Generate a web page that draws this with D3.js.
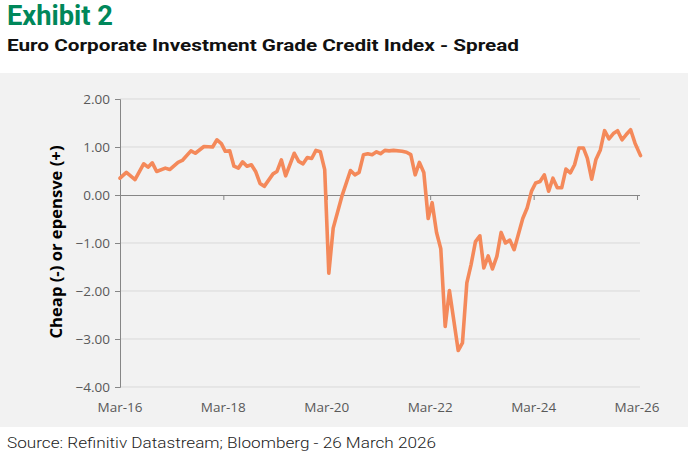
<!DOCTYPE html>
<html>
<head>
<meta charset="utf-8">
<script src="https://cdn.jsdelivr.net/npm/d3@7"></script>
<style>
  body { margin: 0; background: #fff; }
  svg { display: block; }
</style>
</head>
<body>
<svg id="chart"></svg>
<script>
// months since Mar-2016 (mid-month) and spread value
const months = [0, 1, 3, 5, 6, 7, 8, 10, 11, 13, 14, 16, 17, 19, 21, 22, 23, 24, 25, 26, 27, 28, 29, 30, 31, 32, 33, 35, 36, 37, 38, 40, 41, 42, 43, 44, 45, 46, 47, 48, 49, 51, 53, 54, 55, 56, 57, 58, 59, 60, 61, 62, 63, 65, 66, 67, 68, 69, 70, 71, 72, 73, 74, 75, 76, 78, 79, 80, 81, 82, 83, 84, 85, 86, 87, 88, 89, 90, 91, 93, 94, 95, 96, 97, 98, 99, 100, 101, 102, 103, 104, 105, 106, 107, 108, 109, 110, 111, 112, 113, 114, 115, 116, 117, 118, 119, 120];
const spread = [0.35, 0.47, 0.32, 0.65, 0.58, 0.67, 0.49, 0.56, 0.53, 0.68, 0.72, 0.92, 0.87, 1.01, 1.00, 1.15, 1.07, 0.91, 0.92, 0.60, 0.56, 0.69, 0.60, 0.63, 0.49, 0.24, 0.18, 0.44, 0.49, 0.73, 0.40, 0.87, 0.70, 0.65, 0.78, 0.76, 0.93, 0.90, 0.53, -1.63, -0.69, -0.03, 0.51, 0.42, 0.47, 0.84, 0.86, 0.84, 0.90, 0.86, 0.93, 0.92, 0.93, 0.91, 0.89, 0.84, 0.42, 0.68, 0.47, -0.49, -0.16, -0.78, -1.12, -2.74, -1.99, -3.24, -3.08, -1.83, -1.45, -0.97, -0.85, -1.52, -1.27, -1.54, -1.28, -0.78, -1.00, -0.94, -1.14, -0.49, -0.27, 0.08, 0.25, 0.28, 0.42, 0.08, 0.35, 0.15, 0.15, 0.54, 0.46, 0.63, 0.98, 0.98, 0.77, 0.33, 0.74, 0.94, 1.34, 1.17, 1.28, 1.34, 1.15, 1.26, 1.36, 1.08, 0.82];
const yTicks = [2, 1, 0, -1, -2, -3, -4];
const xTickYears = [2016, 2018, 2020, 2022, 2024, 2026];

const W = 688, H = 456;
const margin = { top: 99, right: 48, bottom: 69, left: 120 },
    width = W - margin.left - margin.right,
    height = H - margin.top - margin.bottom;

const data = months.map((m, i) => ({
    date: new Date(2016, 2 + m, m === 0 ? 1 : (m === 120 ? 26 : 15)),
    value: spread[i]
}));

const svg = d3.select("#chart")
    .attr("width", W)
    .attr("height", H);

// grey panel
svg.append("rect")
    .attr("x", 0).attr("y", 73)
    .attr("width", W).attr("height", 354)
    .attr("fill", "#f2f2f2");

svg.append("text")
    .attr("x", 7).attr("y", 25)
    .attr("font-family", "Roboto, sans-serif")
    .attr("font-weight", "bold")
    .attr("font-size", 27)
    .attr("fill", "#00875a")
    .attr("textLength", 106)
    .attr("lengthAdjust", "spacingAndGlyphs")
    .text("Exhibit 2");

svg.append("text")
    .attr("x", 7).attr("y", 50.5)
    .attr("font-family", "Roboto, sans-serif")
    .attr("font-weight", "bold")
    .attr("font-size", 16)
    .attr("fill", "#111")
    .attr("textLength", 512)
    .attr("lengthAdjust", "spacingAndGlyphs")
    .text("Euro Corporate Investment Grade Credit Index - Spread");

svg.append("text")
    .attr("x", 7).attr("y", 448)
    .attr("font-family", "Roboto, sans-serif")
    .attr("font-weight", 300)
    .attr("font-size", 15)
    .attr("fill", "#222")
    .attr("textLength", 429)
    .attr("lengthAdjust", "spacingAndGlyphs")
    .text("Source: Refinitiv Datastream; Bloomberg - 26 March 2026");

const g = svg.append("g")
    .attr("transform", `translate(${margin.left}, ${margin.top})`);

const x = d3.scaleTime()
    .domain([new Date(2016, 2, 1), new Date(2026, 2, 1)])
    .range([0, 517]);

const y = d3.scaleLinear()
    .domain([-4, 2])
    .range([height, 0]);

// gridlines
g.selectAll(".grid")
    .data(yTicks.filter(d => d !== 0))
    .enter()
    .append("line")
    .attr("x1", 0).attr("x2", width)
    .attr("y1", d => y(d)).attr("y2", d => y(d))
    .attr("stroke", "#d9d9d9")
    .attr("stroke-width", 1);

// y axis
const yAxis = g.append("g")
    .call(d3.axisLeft(y).tickValues(yTicks).tickFormat(d3.format(".2f")).tickSize(5).tickPadding(5));
yAxis.select(".domain").attr("stroke", "#868686");
yAxis.selectAll(".tick line").attr("stroke", "#868686");
yAxis.selectAll("text")
    .attr("font-family", "'Open Sans', sans-serif")
    .attr("font-size", 13.5)
    .attr("fill", "#595959");

// x axis on zero line, ticks pointing down
const xTicks = xTickYears.map(yr => new Date(yr, 2, 1));
const xAxis = g.append("g")
    .attr("transform", `translate(0, ${y(0)})`)
    .call(d3.axisBottom(x).tickValues(xTicks).tickSizeInner(5).tickSizeOuter(0).tickFormat(() => ""));
xAxis.select(".domain").attr("stroke", "#868686").attr("d", `M0,0.5H${width}`);
xAxis.selectAll(".tick line").attr("stroke", "#868686");

// x labels at the bottom
g.selectAll(".xlab")
    .data(xTicks)
    .enter()
    .append("text")
    .attr("x", d => x(d))
    .attr("y", height + 25)
    .attr("text-anchor", "middle")
    .attr("font-family", "'Open Sans', sans-serif")
    .attr("font-size", 13.5)
    .attr("fill", "#595959")
    .text(d3.timeFormat("Mar-%y"));

// y axis title
g.append("text")
    .attr("transform", `translate(-58, ${height / 2 - 1}) rotate(-90)`)
    .attr("text-anchor", "middle")
    .attr("font-family", "'Open Sans', sans-serif")
    .attr("font-weight", "bold")
    .attr("font-size", 16)
    .attr("fill", "#000")
    .attr("textLength", 193)
    .attr("lengthAdjust", "spacingAndGlyphs")
    .text("Cheap (-) or epensve (+)");

// the line
const line = d3.line()
    .x(d => x(d.date))
    .y(d => y(d.value));

g.append("path")
    .datum(data)
    .attr("d", line)
    .attr("fill", "none")
    .attr("stroke", "#f4895a")
    .attr("stroke-width", 3.6)
    .attr("stroke-linejoin", "round")
    .attr("stroke-linecap", "round");
</script>
</body>
</html>
